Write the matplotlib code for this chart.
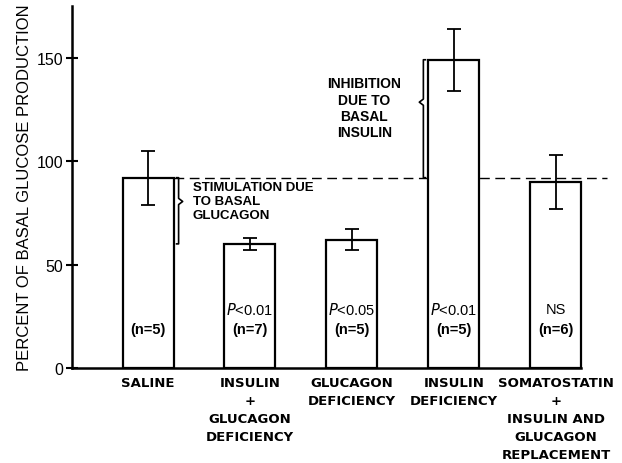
import matplotlib
matplotlib.use("Agg")
import matplotlib.pyplot as plt
import numpy as np

plt.rcParams['font.family'] = ['Liberation Sans', 'DejaVu Sans']

categories = ["SALINE", "INSULIN\n+\nGLUCAGON\nDEFICIENCY", "GLUCAGON\nDEFICIENCY",
              "INSULIN\nDEFICIENCY", "SOMATOSTATIN\n+\nINSULIN AND\nGLUCAGON\nREPLACEMENT"]
values = [92, 60, 62, 149, 90]
errors = [13, 3, 5, 15, 13]
p_labels = ["", "P<0.01", "P<0.05", "P<0.01", "NS"]
n_labels = ["(n=5)", "(n=7)", "(n=5)", "(n=5)", "(n=6)"]
basal_level = 92
yticks = [0, 50, 100, 150]

fig = plt.figure(figsize=(6.22, 4.64), dpi=100)
ax = fig.add_axes([0.1158, 0.2047, 0.984 - 0.1158, 0.985 - 0.2047])

x = np.arange(len(categories))
w = 0.5
ax.bar(x, values, width=w, facecolor='white', edgecolor='black', linewidth=1.6, zorder=2)
ax.errorbar(x, values, yerr=errors, fmt='none', ecolor='black', elinewidth=1.3,
            capsize=5, capthick=1.3, zorder=3)

# dashed basal line
ax.plot([x[0] + w / 2, 4.5], [basal_level, basal_level], ls=(0, (7, 4)), color='black', lw=1.0, zorder=1)

# brace for stimulation (right of saline)
bx = x[0] + w / 2 + 0.03
ax.plot([bx, bx + 0.02, bx + 0.02, bx + 0.06, bx + 0.02, bx + 0.02, bx],
        [basal_level, basal_level, 82, 80.5, 79, values[1], values[1]], color='black', lw=1.2)
ax.text(0.44, 90.5, "STIMULATION DUE\nTO BASAL\nGLUCAGON", ha='left', va='top',
        fontsize=9.5, fontweight='bold', linespacing=1.25)

# brace for inhibition (left of insulin deficiency)
ix = x[3] - w / 2 - 0.03
ax.plot([ix, ix - 0.02, ix - 0.02, ix - 0.06, ix - 0.02, ix - 0.02, ix],
        [values[3], values[3], 130, 128.5, 127, basal_level, basal_level], color='black', lw=1.2)
ax.text(2.12, 141, "INHIBITION\nDUE TO\nBASAL\nINSULIN", ha='center', va='top',
        fontsize=10, fontweight='bold', linespacing=1.2)

for xi, p, n in zip(x, p_labels, n_labels):
    if p:
        txt = p.replace("P", "$P$") if p.startswith("P") else p
        ax.text(xi, 28.5, txt, ha='center', va='center', fontsize=10.5)
    ax.text(xi, 19, n, ha='center', va='center', fontsize=10.5, fontweight='bold')

ax.set_xlim(-0.745, 4.55)
ax.set_ylim(0, 175)
ax.set_yticks(yticks)
ax.set_yticklabels([str(t) for t in yticks], fontsize=11.5)
ax.tick_params(axis='y', direction='inout', length=9, width=1.5, pad=2)
ax.set_xticks(x)
ax.set_xticklabels(categories, fontsize=9.5, fontweight='bold', linespacing=1.5, va='top',
                   family='DejaVu Sans')
ax.tick_params(axis='x', length=0, pad=6)
for s in ['top', 'right']:
    ax.spines[s].set_visible(False)
ax.spines['left'].set_linewidth(1.8)
ax.spines['bottom'].set_linewidth(1.8)
ax.spines['bottom'].set_bounds(-0.745, 4.25)
ax.set_ylabel("PERCENT OF BASAL GLUCOSE PRODUCTION", fontsize=12, labelpad=3)

fig.savefig("out.png", dpi=100)
